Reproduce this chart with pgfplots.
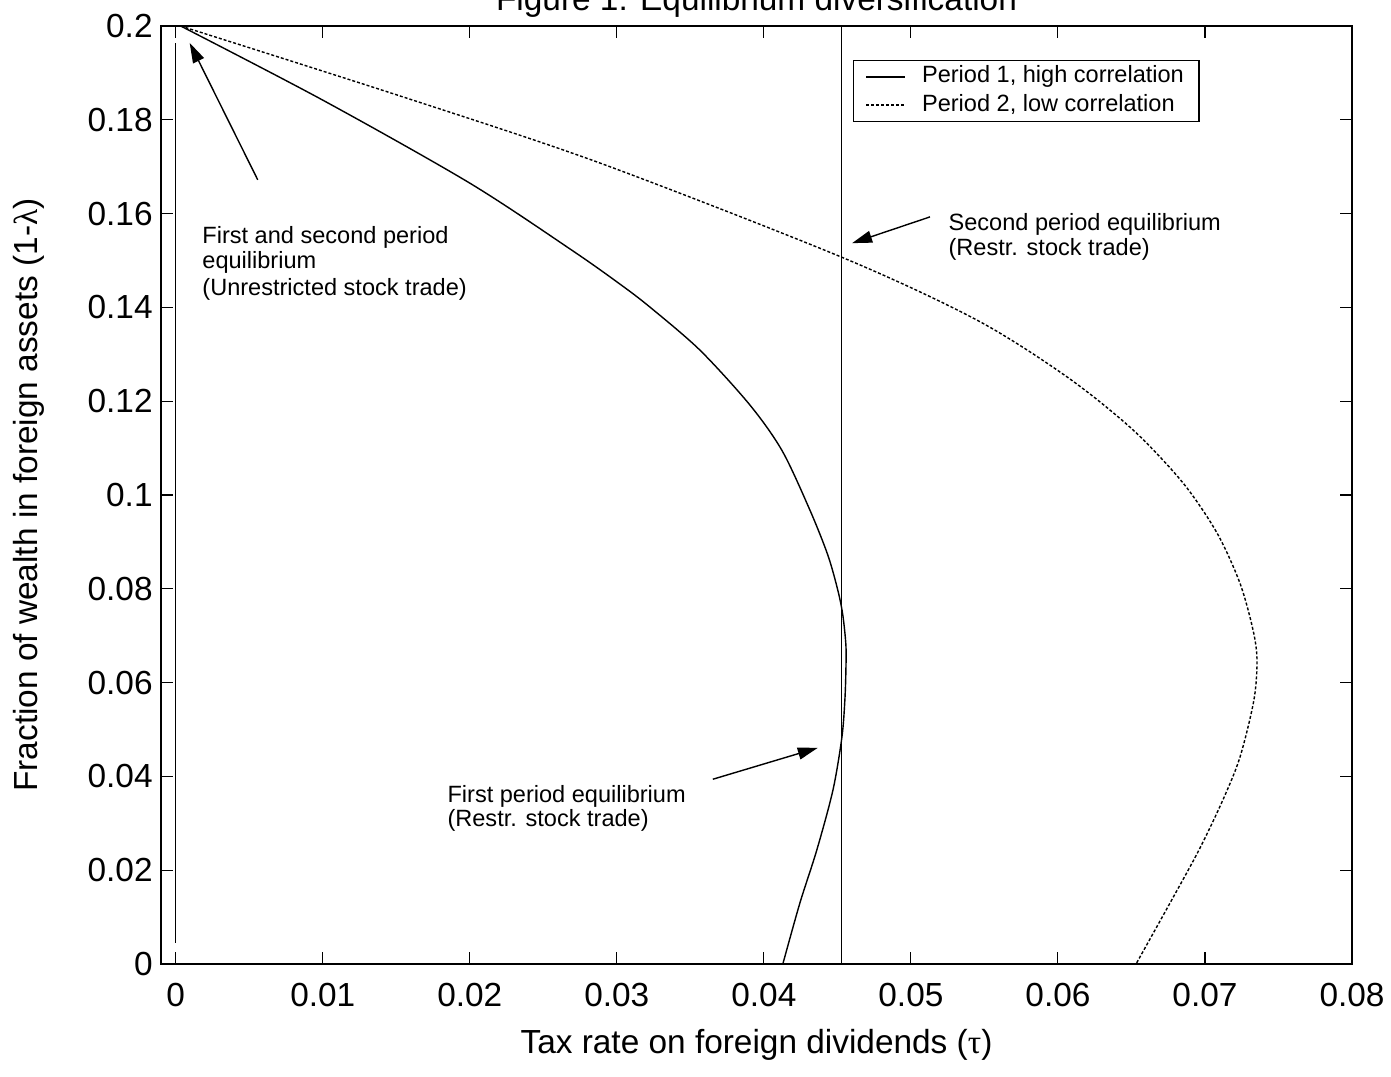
\documentclass[border=0pt]{standalone}
\usepackage{fontspec}
\setmainfont{Liberation Sans}
\newfontfamily\grk{Liberation Serif}
\usepackage{pgfplots}
\pgfplotsset{compat=1.18}
\usetikzlibrary{arrows.meta}

% font sizes (1px = 0.01cm)
\newcommand\bigf{\fontsize{9.5pt}{11.4pt}\selectfont}
\newcommand\smallf{\fontsize{6.7pt}{7.6pt}\selectfont}

\begin{document}
\begin{tikzpicture}
\begin{axis}[
	scale only axis,
	width=11.91cm, height=9.38cm,
	xmin=-0.001, xmax=0.08,
	ymin=0, ymax=0.2,
	scaled ticks=false,
	xtick={0,0.01,0.02,0.03,0.04,0.05,0.06,0.07,0.08},
	xticklabels={0,0.01,0.02,0.03,0.04,0.05,0.06,0.07,0.08},
	ytick={0,0.02,0.04,0.06,0.08,0.1,0.12,0.14,0.16,0.18,0.2},
	yticklabels={0,0.02,0.04,0.06,0.08,0.1,0.12,0.14,0.16,0.18,0.2},
	tick align=inside,
	major tick length=0.12cm,
	tick style={line width=0.3pt, black},
	axis line style={line width=0.55pt},
	ticklabel style={font=\bigf},
	xticklabel style={yshift=-0.07cm},
	yticklabel style={xshift=0.04cm},
	xlabel={Tax rate on foreign dividends ({\grk τ})},
	ylabel={Fraction of wealth in foreign assets (1-{\grk λ})},
	label style={font=\bigf},
	x label style={at={(axis description cs:0.5,-0.0959)}, anchor=base},
	y label style={at={(axis description cs:-0.1033,0.5)}, anchor=base},
	legend style={at={(axis description cs:0.581,0.9638)}, anchor=north west,
		font=\smallf, draw=black, line width=0.4pt,
		inner xsep=0.12cm, inner ysep=0.02cm, row sep=0pt, column sep=0.13cm,
		nodes={inner sep=0.03cm}},
	legend cell align=left,
	legend image code/.code={\draw[#1] (0.02cm,0cm) -- (0.41cm,0cm);},
]
% period 1, high correlation
\addplot[black, line width=0.4pt, smooth] coordinates {
	(0.00034,0.2) (0.01,0.1842) (0.02,0.1665) (0.02694,0.1522)
	(0.0302,0.1450) (0.03224,0.1401) (0.03565,0.1309) (0.03905,0.1192)
	(0.04125,0.1094) (0.04313,0.0968) (0.04435,0.0872) (0.04503,0.0797)
	(0.04537,0.0744) (0.04558,0.0680) (0.04558,0.0627) (0.04551,0.0563)
	(0.04531,0.0484) (0.0447,0.0371) (0.0436,0.0243) (0.04245,0.0130)
	(0.04129,0.0)
};
\addlegendentry{Period 1, high correlation}
% period 2, low correlation
\addplot[black, line width=0.4pt, smooth, dash pattern=on 0.03cm off 0.02cm] coordinates {
	(0.00034,0.2) (0.01544,0.1849) (0.02884,0.1708) (0.0453,0.1507)
	(0.05449,0.1373) (0.06061,0.1252) (0.06510,0.1139) (0.0685,0.1026)
	(0.07082,0.0919) (0.07238,0.0812) (0.07327,0.0712) (0.07354,0.0648)
	(0.07333,0.0563) (0.07238,0.0441) (0.07122,0.0350) (0.06959,0.0243)
	(0.06748,0.0122) (0.06531,0.0)
};
\addlegendentry{Period 2, low correlation}
% equilibrium lines
\addplot[black, line width=0.4pt, forget plot] coordinates {(0.04529,0) (0.04529,0.2)};
\addplot[black, line width=0.4pt, forget plot] coordinates {(0,0.0045) (0,0.1964)};

% annotations
\draw[line width=0.4pt, -{Triangle[length=0.2cm,width=0.12cm]}]
	(axis cs:0.00558,0.1672) -- (axis cs:0.00095,0.1964);
\draw[line width=0.4pt, -{Triangle[length=0.2cm,width=0.12cm]}]
	(axis cs:0.0513,0.1593) -- (axis cs:0.0460,0.1537);
\draw[line width=0.4pt, -{Triangle[length=0.2cm,width=0.12cm]}]
	(axis cs:0.03653,0.0394) -- (axis cs:0.04367,0.0461);
\begin{scope}[every node/.style={anchor=base west, inner sep=0pt, font=\smallf}]
\node at (axis cs:0.00177,0.1537) {First and second period};
\node at (axis cs:0.00177,0.1482) {equilibrium};
\node at (axis cs:0.00177,0.1426) {(Unrestricted stock trade)};
\node at (axis cs:0.05252,0.1565) {Second period equilibrium};
\node at (axis cs:0.05252,0.1510) {(Restr. stock trade)};
\node at (axis cs:0.01844,0.03454) {First period equilibrium};
\node at (axis cs:0.01844,0.02942) {(Restr. stock trade)};
\end{scope}
\end{axis}
\node[anchor=base, font=\bigf] at ([yshift=0.15cm]current axis.north) {Figure 1: Equilibrium diversification};
\pgfresetboundingbox
\path[use as bounding box] ([shift={(-1.61cm,-1.12cm)}]current axis.south west)
	rectangle ([shift={(0.39cm,0.26cm)}]current axis.north east);
\end{tikzpicture}
\end{document}
